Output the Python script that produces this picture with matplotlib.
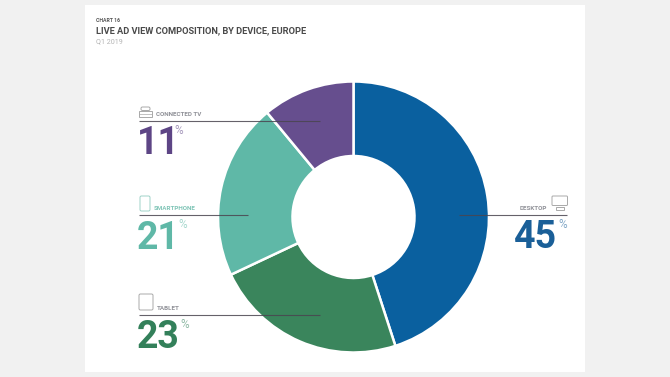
import matplotlib
matplotlib.use("Agg")
import matplotlib.pyplot as plt
from matplotlib.patches import Rectangle, FancyBboxPatch

categories = ["DESKTOP", "TABLET", "SMARTPHONE", "CONNECTED TV"]
values = [45, 23, 21, 11]
colors = ["#0a609f", "#3a855c", "#5fb8a7", "#664e8e"]
text_colors = ["#1a5f98", "#33805a", "#5fb8a7", "#5d4585"]

W, H = 670, 377
fig = plt.figure(figsize=(W / 100, H / 100), dpi=100, facecolor="#f1f1f1")
plt.rcParams["font.family"] = ["Roboto", "DejaVu Sans"]

bg = fig.add_axes([0, 0, 1, 1])
bg.set_xlim(0, W); bg.set_ylim(H, 0); bg.axis("off")
bg.add_patch(Rectangle((85, 5), 500, 367, fc="white", ec="none"))

cx, cy, R = 353.5, 217, 135.5
pie_ax = fig.add_axes([(cx - R) / W, 1 - (cy + R) / H, 2 * R / W, 2 * R / H])
pie_ax.pie(values, colors=colors, startangle=90, counterclock=False, radius=1,
           wedgeprops=dict(width=1 - 61 / R, edgecolor="white", linewidth=1.8))
pie_ax.set_xlim(-1, 1); pie_ax.set_ylim(-1, 1); pie_ax.set_aspect("equal")
pie_ax.patch.set_alpha(0)

ov = fig.add_axes([0, 0, 1, 1], facecolor="none")
ov.set_xlim(0, W); ov.set_ylim(H, 0); ov.axis("off")

ov.text(96, 21, "CHART 16", fontsize=3.7, fontweight="bold", color="#555555", va="center")
ov.text(96, 31, "LIVE AD VIEW COMPOSITION, BY DEVICE, EUROPE", fontsize=6.7,
        fontweight="bold", color="#4a4a4a", va="center")
ov.text(96, 42, "Q1 2019", fontsize=5.2, color="#b5b5b5", va="center")

line_c = "#4a4550"
# (label idx, line x0, x1, y, label x, label y, ha, number x, ha, number y, pct x, pct y)
rows = [
    (3, 139, 320, 120.5, 156, 114, "left", 137, "left", 143.5, 179, 130),
    (2, 139, 248, 215, 154, 209, "left", 137, "left", 238.5, 183, 225),
    (1, 139, 320, 314.5, 157, 308, "left", 137, "left", 337, 185, 325),
    (0, 459, 567, 215, 547, 209, "right", 557, "right", 237, 563, 225),
]
for i, x0, x1, y, lx, ly, lha, nx, nha, ny, px, py in rows:
    ov.plot([x0, x1], [y, y], color=line_c, lw=0.8, alpha=0.85, solid_capstyle="butt")
    ov.text(lx, ly, categories[i], fontsize=4.5, fontweight="bold",
            color="#8f9097" if i != 2 else "#7fc4b6", ha=lha, va="center")
    ov.text(nx, ny, str(values[i]), fontsize=27, fontweight="bold",
            color=text_colors[i], ha=nha, va="center")
    ov.text(px, py, "%", fontsize=8.5, color=text_colors[i], alpha=0.55, ha="center", va="center")

icon = dict(fc="none", ec="#a9a9a9", lw=0.7)
# connected TV
ov.add_patch(Rectangle((139, 110.5), 13, 6.5, **icon))
ov.add_patch(FancyBboxPatch((141, 107), 9, 3.5, boxstyle="round,pad=0,rounding_size=1.5", **icon))
ov.plot([139, 152], [113.5, 113.5], color="#a9a9a9", lw=0.5)
# smartphone
ov.add_patch(FancyBboxPatch((140, 196), 10, 15, boxstyle="round,pad=0,rounding_size=1.5",
                            fc="none", ec="#9fd2c8", lw=0.7))
# tablet
ov.add_patch(FancyBboxPatch((139, 294), 14, 16, boxstyle="round,pad=0,rounding_size=1.5", **icon))
# desktop
ov.add_patch(FancyBboxPatch((552, 196), 15.5, 9.5, boxstyle="round,pad=0,rounding_size=1", **icon))
ov.add_patch(Rectangle((556, 206.5), 8, 3, **icon))

fig.savefig("out.png", dpi=100, facecolor=fig.get_facecolor())
